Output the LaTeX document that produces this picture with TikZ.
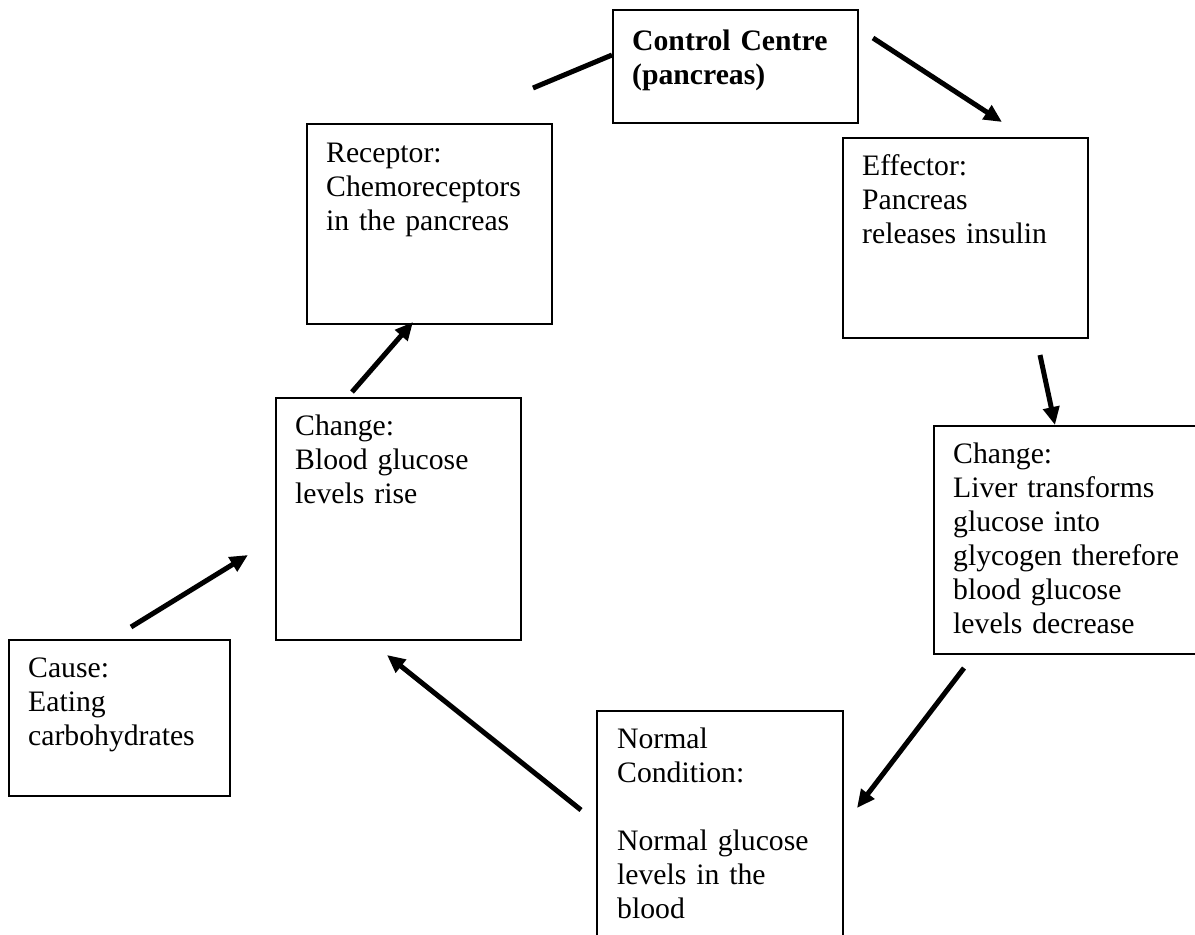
\documentclass[tikz,border=0pt]{standalone}
\usepackage{fontspec}
\setmainfont{Liberation Serif}
\usetikzlibrary{arrows.meta}
\newcommand{\txtfont}{\fontsize{29.7}{34}\selectfont}
\begin{document}
\begin{tikzpicture}[x=1pt,y=-1pt,
  boxnode/.style={draw, line width=1.5pt, anchor=north west, inner sep=0pt},
  txt/.style={anchor=base west, inner sep=0pt, text width=240pt, align=left, font=\txtfont},
  conn/.style={line width=5pt},
  arr/.style={conn, -{Triangle[length=18pt,width=16pt]}}]
\useasboundingbox (0,0) rectangle (1195,935);
\clip (0,0) rectangle (1195,935);
% boxes
\node[boxnode, minimum width=245pt, minimum height=113pt] (cc) at (612,9) {};
\node[boxnode, minimum width=245pt, minimum height=200pt] (rec) at (306,123) {};
\node[boxnode, minimum width=245pt, minimum height=200pt] (eff) at (842,137) {};
\node[boxnode, minimum width=300pt, minimum height=228pt] (chr) at (933,425) {};
\node[boxnode, minimum width=246pt, minimum height=260pt] (nor) at (596,710) {};
\node[boxnode, minimum width=245pt, minimum height=242pt] (chl) at (275,397) {};
\node[boxnode, minimum width=221pt, minimum height=156pt] (cau) at (8,639) {};
% texts
\node[txt, font=\txtfont\bfseries] (tcc) at (632,50) {Control Centre\\(pancreas)};
\node[txt] (trec) at (326,162) {Receptor:\\Chemoreceptors\\in the pancreas};
\node[txt] (teff) at (862,175) {Effector:\\Pancreas\\releases insulin};
\node[txt] (tchr) at (953,463) {Change:\\Liver transforms\\glucose into\\glycogen therefore\\blood glucose\\levels decrease};
\node[txt] (tnor) at (617,748) {Normal\\Condition:\\[34pt]Normal glucose\\levels in the\\blood};
\node[txt] (tchl) at (295,435) {Change:\\Blood glucose\\levels rise};
\node[txt] (tcau) at (28,677) {Cause:\\Eating\\carbohydrates};
% connector end points
\coordinate (l0) at (533,88);  \coordinate (l1) at (612,55);
\coordinate (a0) at (873,38);  \coordinate (a1) at (1002,122);
\coordinate (b0) at (1040,355); \coordinate (b1) at (1055,425);
\coordinate (c0) at (964,668); \coordinate (c1) at (857,808);
\coordinate (d0) at (581,810); \coordinate (d1) at (387,655);
\coordinate (e0) at (131,627); \coordinate (e1) at (248,555);
\coordinate (f0) at (352,392); \coordinate (f1) at (413,322);
% connectors
\draw[conn] (l0) -- (l1);
\draw[arr] (a0) -- (a1);
\draw[arr] (b0) -- (b1);
\draw[arr] (c0) -- (c1);
\draw[arr] (d0) -- (d1);
\draw[arr] (e0) -- (e1);
\draw[arr] (f0) -- (f1);
\end{tikzpicture}
\end{document}
